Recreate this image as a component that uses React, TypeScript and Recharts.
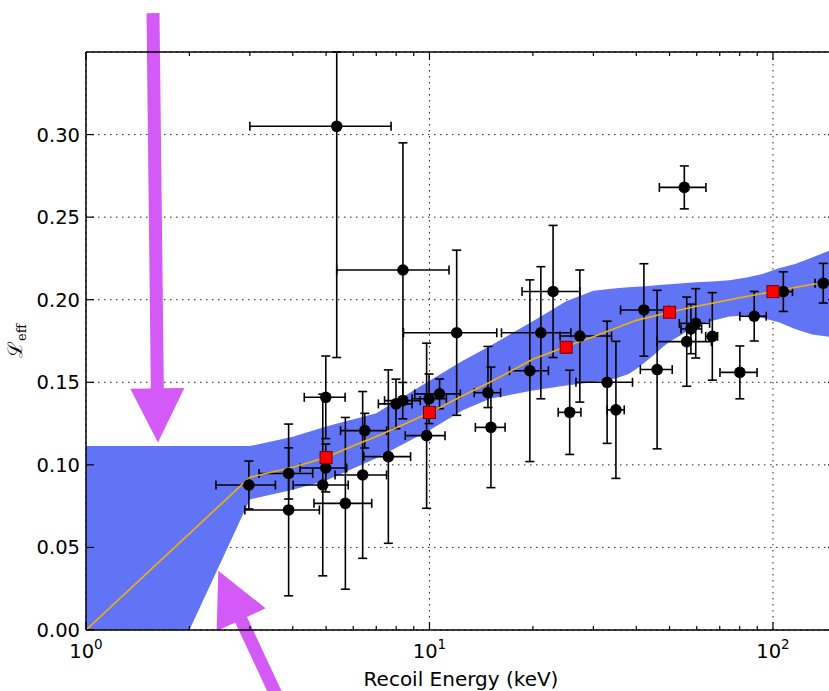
import React from 'react';
import {
  ComposedChart,
  XAxis,
  YAxis,
  CartesianGrid,
  Area,
  Line,
  Scatter,
  ErrorBar,
  ReferenceLine,
} from 'recharts';

// axis ticks
const majorE = [1, 10, 100];
const minorE = [2, 3, 4, 5, 6, 7, 8, 9, 20, 30, 40, 50, 60, 70, 80, 90];
const ticksL = [0, 0.05, 0.1, 0.15, 0.2, 0.25, 0.3];

// blue uncertainty band
const bandE = [1, 2, 3, 4, 5, 7, 10, 12.5, 15, 20, 25, 30, 35, 38, 40, 42.6, 45, 47.6, 50, 53.4, 59.5, 66.6, 74.7, 83.8, 93.2, 104, 116, 130, 153];
const bandLow = [0, 0, 0.079, 0.085, 0.0905, 0.104, 0.121, 0.133, 0.14, 0.145, 0.148, 0.15, 0.1525, 0.155, 0.158, 0.1625, 0.1665, 0.171, 0.1745, 0.178, 0.1843, 0.1873, 0.1898, 0.1904, 0.189, 0.1863, 0.1823, 0.179, 0.177];
const bandHigh = [0.1114, 0.1114, 0.1114, 0.117, 0.1232, 0.1313, 0.151, 0.163, 0.172, 0.187, 0.199, 0.2055, 0.207, 0.2075, 0.2078, 0.2082, 0.2086, 0.209, 0.2093, 0.2098, 0.2105, 0.2111, 0.2118, 0.2135, 0.2156, 0.219, 0.2217, 0.2255, 0.2315];

// orange best fit
const fitE = [1, 3, 4, 5, 6, 7, 8, 10, 12, 15, 20, 25, 30, 40, 50, 60, 70, 80, 100, 120, 153];
const fitL = [0, 0.0925, 0.0985, 0.1045, 0.1116, 0.1172, 0.1225, 0.1315, 0.14, 0.15, 0.1639, 0.1716, 0.1775, 0.1875, 0.1924, 0.196, 0.1988, 0.2012, 0.2049, 0.208, 0.2118];

// measurements (black points)
const measE = [2.98, 3.89, 3.89, 4.99, 4.99, 4.89, 5.69, 6.48, 6.39, 7.59, 7.99, 8.36, 5.37, 8.37, 12.0, 9.97, 9.81, 10.7, 14.8, 15.1, 19.6, 21.1, 22.9, 25.6, 27.4, 32.9, 34.9, 42.1, 46.0, 55.2, 56.1, 57.7, 59.6, 66.6, 80.1, 88.2, 107.2, 140.1];
const measL = [0.0878, 0.0948, 0.0727, 0.1409, 0.0981, 0.0878, 0.0767, 0.1207, 0.0939, 0.105, 0.1369, 0.1389, 0.305, 0.218, 0.18, 0.14, 0.1177, 0.143, 0.1437, 0.1227, 0.157, 0.18, 0.205, 0.1318, 0.178, 0.15, 0.1333, 0.1938, 0.1577, 0.268, 0.1746, 0.1823, 0.1857, 0.1778, 0.156, 0.19, 0.2049, 0.21];
const measELow = [2.39, 3.19, 2.9, 4.32, 4.2, 4.01, 4.61, 5.51, 5.31, 6.44, 7.1, 7.4, 3.0, 5.37, 8.4, 8.9, 8.5, 9.06, 13.5, 13.6, 17.1, 16.2, 18.6, 23.7, 24.0, 26.7, 32.9, 36.0, 41.1, 46.7, 45.9, 54, 53.4, 63.7, 70.1, 80.1, 99.6, 132.6];
const measEHigh = [3.56, 4.57, 4.78, 5.68, 5.74, 5.8, 6.79, 7.5, 7.5, 8.81, 8.9, 9.4, 7.73, 11.4, 15.7, 11.2, 11.1, 12.3, 16.1, 16.6, 22.2, 25.8, 27.4, 27.6, 33.9, 39.0, 36.9, 49.8, 50.9, 63.8, 66.2, 62, 65.4, 69.0, 89.9, 95.6, 114, 148];
const measErrDown = [0.0145, 0.0155, 0.052, 0.025, 0.0145, 0.055, 0.052, 0.0105, 0.0505, 0.0525, 0.015, 0.011, 0.14, 0.077, 0.05, 0.015, 0.044, 0.009, 0.009, 0.0365, 0.055, 0.04, 0.04, 0.0255, 0.04, 0.037, 0.0415, 0.028, 0.048, 0.013, 0.027, 0.015, 0.021, 0.0265, 0.016, 0.015, 0.012, 0.012];
// the 0.305 point's upper bar runs out of the frame; only the visible part is kept
const measErrUp = [0.0145, 0.0155, 0.052, 0.025, 0.0145, 0.055, 0.052, 0.0105, 0.0505, 0.0525, 0.015, 0.011, 0.045, 0.077, 0.05, 0.015, 0.056, 0.009, 0.028, 0.0365, 0.055, 0.04, 0.04, 0.0255, 0.04, 0.037, 0.0415, 0.028, 0.048, 0.013, 0.027, 0.015, 0.021, 0.0265, 0.016, 0.015, 0.012, 0.012];

// red squares
const refE = [5, 10, 25, 50, 100];
const refL = [0.1044, 0.1317, 0.1712, 0.1924, 0.2049];

// magenta arrows (tail -> tip, data units)
const arrowTailE = [1.567, 3.877];
const arrowTailL = [0.3735, -0.0549];
const arrowTipE = [1.62, 2.428];
const arrowTipL = [0.1136, 0.0359];

const DOMAIN_E: [number, number] = [1, 152.6];
const DOMAIN_L: [number, number] = [0, 0.35];
const FONT = 'DejaVu Sans';
const MAGENTA = '#d45af7';

const bandData = bandE.map((E, i) => ({ E, band: [bandLow[i], bandHigh[i]] }));
const fitData = fitE.map((E, i) => ({ E, L: fitL[i] }));
const measData = measE.map((E, i) => ({
  E,
  L: measL[i],
  ex: [E - measELow[i], measEHigh[i] - E],
  ey: [measErrDown[i], measErrUp[i]],
}));
const refData = refE.map((E, i) => ({ E, L: refL[i] }));

const isMajor = (v: number) => Math.abs(Math.log10(v) - Math.round(Math.log10(v))) < 1e-9;

function BottomTick(props: any) {
  const { x, y, payload } = props;
  const v = payload.value;
  const major = isMajor(v);
  return (
    <g>
      <line x1={x} x2={x} y1={y} y2={y - (major ? 8 : 4)} stroke="#000" strokeWidth={1.2} />
      {major && (
        <text x={x} y={y + 28} textAnchor="middle" fontFamily={FONT} fontSize={19.5} fill="#000">
          <tspan>10</tspan>
          <tspan dy={-9} fontSize={13.5}>{Math.round(Math.log10(v))}</tspan>
        </text>
      )}
    </g>
  );
}

function TopTick(props: any) {
  const { x, y, payload } = props;
  const major = isMajor(payload.value);
  return <line x1={x} x2={x} y1={y} y2={y + (major ? 8 : 4)} stroke="#000" strokeWidth={1.2} />;
}

function LeftTick(props: any) {
  const { x, y, payload } = props;
  return (
    <g>
      <line x1={x} x2={x + 8} y1={y} y2={y} stroke="#000" strokeWidth={1.2} />
      <text x={x - 6} y={y} dy="0.36em" textAnchor="end" fontFamily={FONT} fontSize={19.5} fill="#000">
        {payload.value.toFixed(2)}
      </text>
    </g>
  );
}

function RightTick(props: any) {
  const { x, y } = props;
  return <line x1={x} x2={x - 8} y1={y} y2={y} stroke="#000" strokeWidth={1.2} />;
}

function XTitle(props: any) {
  const vb = props.viewBox;
  return (
    <text x={vb.x + vb.width / 2} y={vb.y + 56} textAnchor="middle" fontFamily={FONT} fontSize={20} fill="#000">
      Recoil Energy (keV)
    </text>
  );
}

function YTitle(props: any) {
  const vb = props.viewBox;
  const cy = vb.y + vb.height / 2;
  return (
    <text transform={`translate(22, ${cy}) rotate(-90)`} textAnchor="middle" fill="#000" fontFamily="DejaVu Serif">
      <tspan fontSize={20}>ℒ</tspan>
      <tspan fontSize={13} dy={4}>eff</tspan>
    </text>
  );
}

function Arrow(props: any) {
  const { x1, y1, x2, y2 } = props;
  const dx = x2 - x1;
  const dy = y2 - y1;
  const len = Math.hypot(dx, dy);
  const ux = dx / len;
  const uy = dy / len;
  const px = -uy;
  const py = ux;
  const head = 54;
  const headHalf = 27;
  const shaftHalf = 6.5;
  const bx = x2 - ux * head;
  const by = y2 - uy * head;
  const pts = [
    [x1 + px * shaftHalf, y1 + py * shaftHalf],
    [bx + px * shaftHalf, by + py * shaftHalf],
    [bx + px * headHalf, by + py * headHalf],
    [x2, y2],
    [bx - px * headHalf, by - py * headHalf],
    [bx - px * shaftHalf, by - py * shaftHalf],
    [x1 - px * shaftHalf, y1 - py * shaftHalf],
  ];
  return <polygon points={pts.map((p) => p.join(',')).join(' ')} fill={MAGENTA} />;
}

export default function App() {
  return (
    <div style={{ position: 'absolute', left: 0, top: 0, width: 829, height: 691, overflow: 'hidden', background: '#fff' }}>
      <ComposedChart width={837} height={691} margin={{ top: 51, right: 0, bottom: 0, left: 0 }}>
        <XAxis
          dataKey="E"
          type="number"
          scale="log"
          domain={DOMAIN_E}
          allowDataOverflow
          ticks={[...majorE, ...minorE]}
          interval={0}
          height={61}
          tickSize={0}
          tickMargin={0}
          tickLine={false}
          tick={<BottomTick />}
          axisLine={{ stroke: '#000', strokeWidth: 1.5 }}
          label={XTitle}
        />
        <XAxis
          xAxisId="top"
          orientation="top"
          dataKey="E"
          type="number"
          scale="log"
          domain={DOMAIN_E}
          allowDataOverflow
          ticks={[...majorE, ...minorE]}
          interval={0}
          height={1}
          tickSize={0}
          tickMargin={0}
          tickLine={false}
          tick={<TopTick />}
          axisLine={{ stroke: '#000', strokeWidth: 1.5 }}
        />
        <XAxis xAxisId="grid" dataKey="E" type="number" scale="log" domain={DOMAIN_E} allowDataOverflow ticks={majorE} hide />
        <YAxis
          type="number"
          domain={DOMAIN_L}
          allowDataOverflow
          ticks={ticksL}
          interval={0}
          width={86}
          tickSize={0}
          tickMargin={0}
          tickLine={false}
          tick={<LeftTick />}
          axisLine={{ stroke: '#000', strokeWidth: 1.5 }}
          label={YTitle}
        />
        <YAxis
          yAxisId="right"
          orientation="right"
          type="number"
          domain={DOMAIN_L}
          allowDataOverflow
          ticks={ticksL}
          interval={0}
          width={1}
          tickSize={0}
          tickMargin={0}
          tickLine={false}
          tick={<RightTick />}
          axisLine={{ stroke: '#000', strokeWidth: 1.5 }}
        />
        <Area
          data={bandData}
          dataKey="band"
          type="linear"
          stroke="none"
          fill="#6274f6"
          fillOpacity={1}
          isAnimationActive={false}
        />
        <CartesianGrid xAxisId="grid" stroke="#222" strokeWidth={1} strokeDasharray="1.5 4.5" />
        <Scatter
          data={measData}
          dataKey="L"
          fill="#000"
          isAnimationActive={false}
          shape={(p: any) => <circle cx={p.cx} cy={p.cy} r={5.8} fill="#000" />}
        >
          <ErrorBar dataKey="ex" direction="x" width={4.5} stroke="#000" strokeWidth={1.6} />
          <ErrorBar dataKey="ey" direction="y" width={4.5} stroke="#000" strokeWidth={1.6} />
        </Scatter>
        <Line
          data={fitData}
          dataKey="L"
          type="linear"
          stroke="#f2b200"
          strokeWidth={1.6}
          dot={false}
          isAnimationActive={false}
        />
        <Scatter
          data={refData}
          dataKey="L"
          fill="#ff0000"
          isAnimationActive={false}
          shape={(p: any) => (
            <rect x={p.cx - 6} y={p.cy - 6} width={12} height={12} fill="#ff0000" stroke="#700" strokeWidth={1} />
          )}
        />
        {arrowTailE.map((E, i) => (
          <ReferenceLine
            key={`arrow-${i}`}
            segment={[
              { x: E, y: arrowTailL[i] },
              { x: arrowTipE[i], y: arrowTipL[i] },
            ]}
            ifOverflow="visible"
            shape={Arrow}
          />
        ))}
      </ComposedChart>
    </div>
  );
}
